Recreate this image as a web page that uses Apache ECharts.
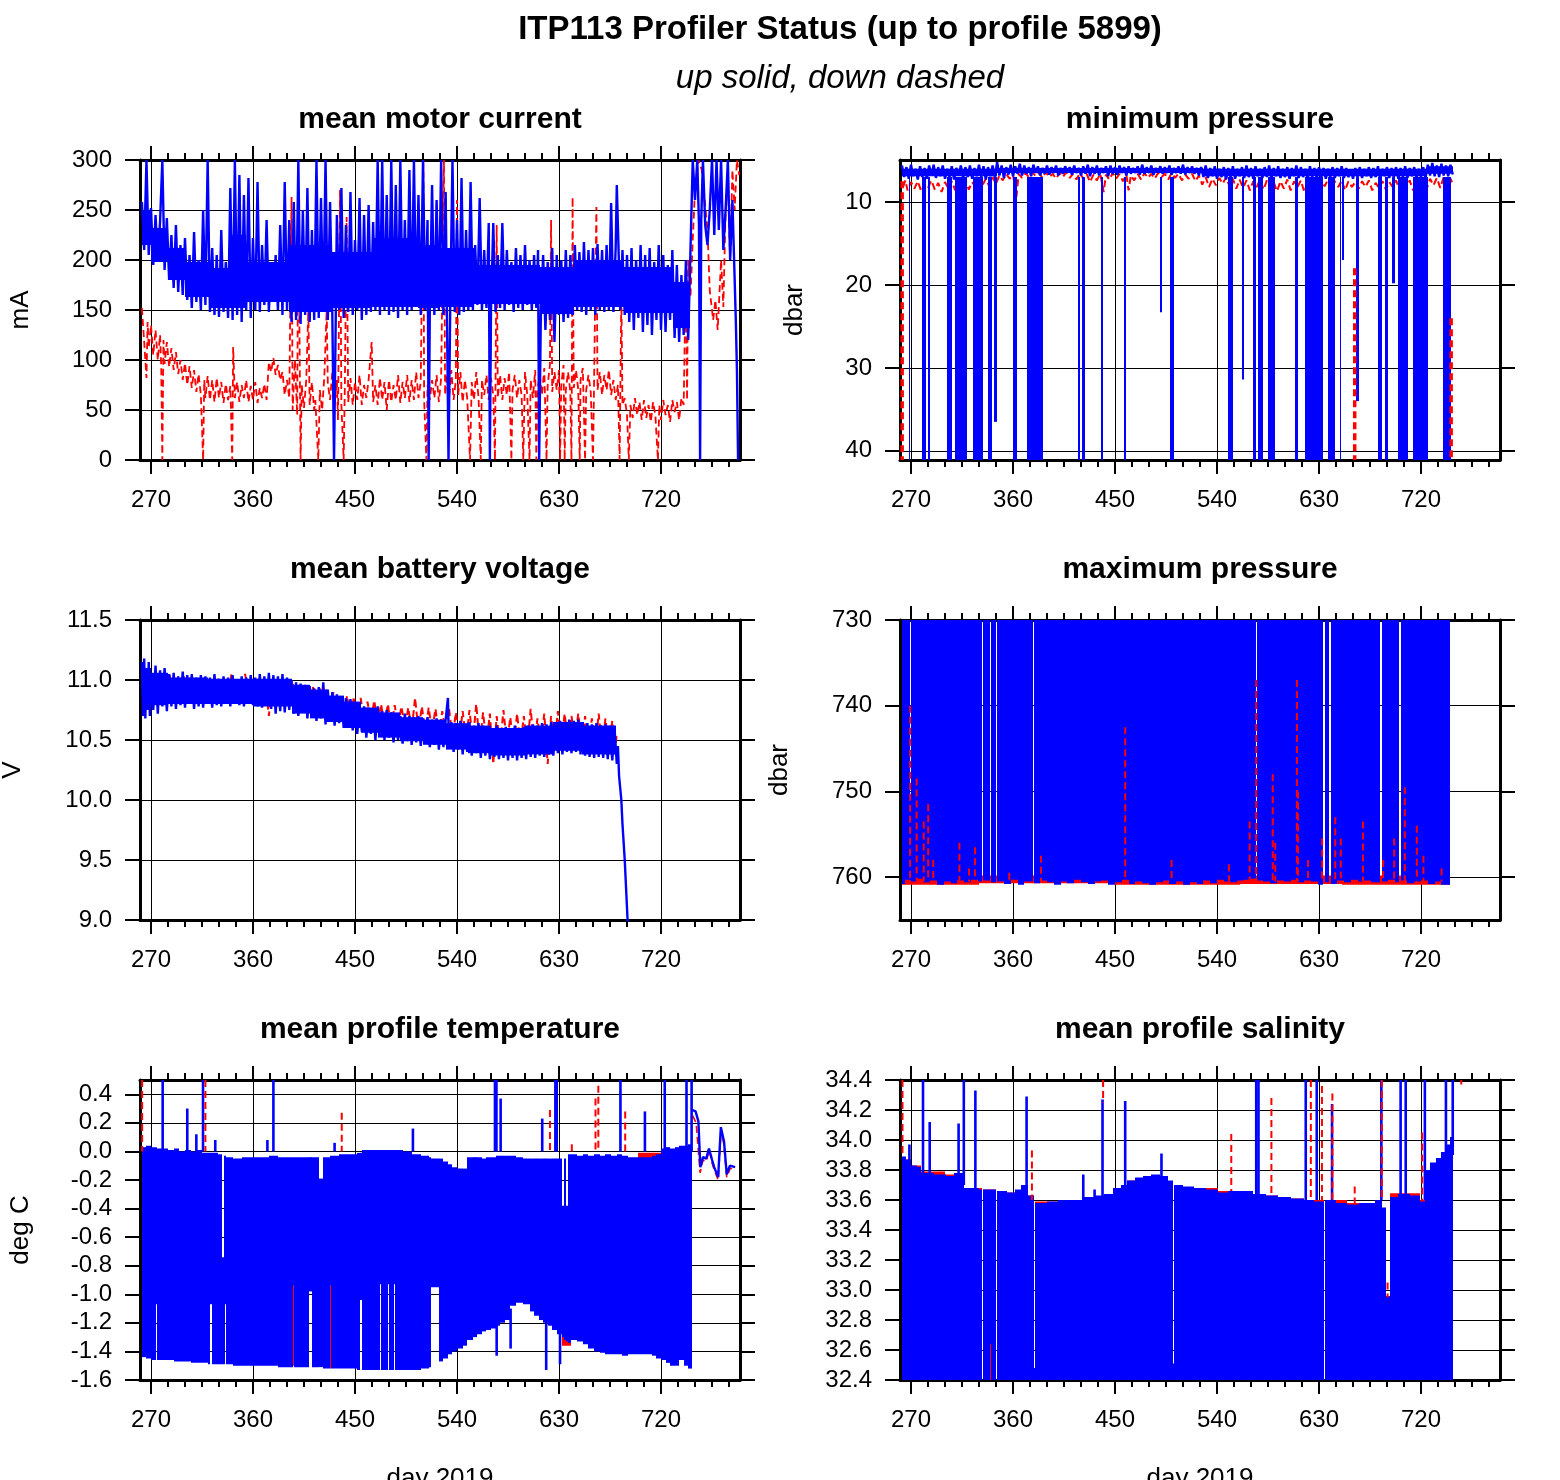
<!DOCTYPE html>
<html><head><meta charset="utf-8">
<script src="https://cdn.jsdelivr.net/npm/echarts@6/dist/echarts.min.js"></script>
<style>html,body{margin:0;padding:0;background:#fff}#c{width:1560px;height:1480px}</style>
</head><body><div id="c"></div>
<script>
// ---------- axis ticks / labels ----------
const majorDays = [270,360,450,540,630,720];
const minorDays = [285,300,315,330,345,375,390,405,420,435,465,480,495,510,525,555,570,585,600,615,645,660,675,690,705,735,750,765,780];
const motorTicks = [0,50,100,150,200,250,300];
const minPTicks = [10,20,30,40];
const battTicks = [9,9.5,10,10.5,11,11.5];
const maxPTicks = [730,740,750,760];
const tempTicks = [-1.6,-1.4,-1.2,-1,-0.8,-0.6,-0.4,-0.2,0,0.2,0.4];
const salTicks = [32.4,32.6,32.8,33,33.2,33.4,33.6,33.8,34,34.2,34.4];

// ---------- mean motor current (mA) ----------
const motorUp = [[262,258],[264,210],[266,300],[268,205],[270,252],[272,195],[274,245],[276,200],[278,238],[280,300],[282,190],[284,242],[286,180],[288,225],[290,172],[292,235],[294,168],[296,215],[298,165],[300,222],[302,160],[304,205],[306,152],[308,228],[310,158],[312,200],[314,150],[316,250],[318,155],[320,300],[322,148],[324,212],[326,145],[328,205],[330,143],[332,230],[334,148],[336,198],[338,142],[340,272],[342,140],[344,300],[346,145],[348,285],[350,138],[352,265],[354,150],[356,282],[358,142],[360,222],[362,150],[364,278],[366,148],[368,215],[370,155],[372,240],[374,148],[376,198],[378,160],[380,205],[382,150],[384,235],[386,145],[388,278],[390,150],[392,240],[394,138],[396,258],[398,140],[400,300],[402,136],[404,250],[406,145],[408,272],[410,138],[412,230],[414,140],[416,300],[418,142],[420,262],[422,148],[424,300],[426,140],[428,258],[430,145],[431.5,0],[433,140],[434,245],[436,150],[438,272],[440,142],[442,235],[444,148],[446,268],[448,145],[450,220],[452,150],[454,262],[456,140],[458,245],[460,145],[462,255],[464,148],[466,238],[468,150],[470,300],[472,145],[474,300],[476,150],[478,265],[480,145],[482,300],[484,148],[486,275],[488,142],[490,300],[492,150],[494,240],[496,145],[498,290],[500,150],[502,300],[504,155],[506,265],[508,145],[510,300],[512,150],[514,240],[515,0],[516,148],[518,275],[520,145],[522,260],[524,150],[526,300],[528,145],[530,268],[532.5,0],[534,150],[536,300],[538,148],[540,240],[542,145],[544,282],[546,148],[548,230],[550,150],[552,278],[554,150],[556,215],[558,155],[560,262],[562,150],[564,210],[566,152],[568,237],[569,0],[570,150],[572,237],[574,148],[576,205],[578,152],[580,237],[582,150],[584,210],[586,155],[588,198],[590,148],[592,212],[594,152],[596,205],[598,150],[600,215],[602,155],[604,200],[606,150],[608,205],[610,152],[611.5,210],[612.5,0],[614,148],[616,205],[618,130],[620,198],[622,140],[624,212],[626,118],[628,205],[630,145],[632,200],[634,138],[636,210],[638,142],[640,205],[642,145],[644,215],[646,150],[648,208],[650,148],[652,218],[654,145],[656,210],[658,150],[660,212],[662,145],[664,216],[666,150],[668,210],[670,148],[672,215],[674,150],[676,257],[678,148],[680,212],[681,275],[684,150],[686,210],[688,145],[690,205],[692,138],[694,212],[696,130],[698,200],[700,142],[702,215],[704,128],[706,205],[708,135],[710,212],[712,125],[714,198],[716,140],[718,215],[720,130],[722,205],[724,128],[726,195],[728,140],[730,210],[732,122],[734,195],[736,118],[738,185],[740,125],[742,200],[744,120],[746,210],[748,300],[750,260],[752,300],[753.5,235],[754.5,0],[755.5,240],[757,300],[759,235],[761,215],[763,250],[765,300],[767,225],[769,300],[771,230],[773,300],[775,210],[777,250],[779,300],[781,200],[783,260],[785,180],[786,140],[787,90],[788,0]];
// solid core of the up-profile band: [day0, day1, low, high]
const motorUpCore = [[262,270,215,250],[270,285,198,232],[285,300,180,212],[300,323,163,198],[323,340,152,192],[340,354,152,225],[354,392,158,198],[392,430,148,215],[430,465,152,208],[465,506,153,222],[506,525,152,215],[525,555,153,212],[555,613,156,195],[613,643,146,193],[643,687,153,200],[687,731,147,193],[731,746,132,178]];
const motorDown = [[262,152],[264,118],[266,82],[267,138],[268,112],[270,135],[272,105],[274,130],[276,100],[278,125],[279,95],[280,0],[281,120],[282,96],[284,118],[286,93],[288,112],[290,90],[292,108],[294,86],[296,100],[298,80],[300,97],[302,75],[304,94],[306,72],[308,90],[310,68],[312,86],[314,65],[316,0],[317,80],[318,62],[320,84],[322,60],[324,80],[326,58],[328,82],[330,62],[332,78],[334,57],[336,76],[338,60],[340,74],[341.7,0],[342.5,113],[344,62],[346,78],[348,58],[350,75],[352,62],[354,80],[356,58],[358,74],[360,60],[362,78],[364,57],[366,72],[368,62],[370,76],[372,60],[374,98],[376,88],[378,102],[380,85],[382,95],[384,80],[386,88],[388,65],[390,80],[392,62],[394,263],[395,50],[397,100],[399,45],[400,260],[402,0],[403,75],[405,52],[407,80],[408.8,150],[410,55],[412,78],[414,50],[415,60],[417.6,0],[419,70],[421,50],[423,85],[425,150],[426,77],[428,60],[430,88],[432,55],[434,80],[435,40],[436.8,270],[438,55],[440,0],[441,70],[442.6,243],[444,58],[446,82],[448,55],[450,78],[452,60],[454,85],[456,55],[458,75],[460,62],[462,80],[464.7,118],[466,58],[468,75],[470,55],[472,82],[474,60],[476,78],[478,50],[480,80],[482,58],[484,75],[486,60],[488,85],[490,57],[492,78],[494,62],[496,85],[498,58],[500,80],[502,60],[504,88],[506,62],[508,78],[510.3,300],[511,60],[513,0],[514,75],[516,60],[518,80],[520,62],[522,85],[524,58],[526,82],[528.5,300],[529.5,65],[531,85],[533,62],[535,90],[537,60],[539,80],[540,260],[541,65],[543,88],[545,58],[547,80],[549,62],[551.5,0],[553,78],[555,60],[557,88],[559,62],[561,0],[562,80],[564,65],[566,85],[568,60],[570,82],[572,65],[573.5,0],[575,235],[576,62],[578,85],[580,60],[582,82],[584,65],[586,88],[588,0],[589,70],[591,85],[593,62],[595,80],[597,65],[598.5,0],[600,88],[602,65],[604,0],[605,80],[607,62],[609,90],[610,0],[611,70],[613,85],[615,65],[617,92],[619,0],[620,75],[622,95],[623,240],[624,68],[626,88],[628,70],[630,90],[631,0],[632,75],[634,95],[635,0],[636,70],[638,88],[640,68],[641,0],[642,263],[643,72],[645,90],[647,70],[648.3,0],[649,80],[651,92],[653,0],[654,70],[656,85],[658,68],[660,0],[661,82],[663,253],[664,70],[666,88],[668,65],[670,85],[672,70],[674,90],[676,65],[678,80],[680,60],[682,75],[683.5,0],[685,167],[686,55],[688,62],[690,45],[691.6,0],[693,55],[695,42],[697,62],[699,45],[701,58],[703,40],[705,60],[707,42],[709,55],[711,38],[713,58],[715,45],[717.3,0],[718.5,55],[720,40],[722,60],[724,45],[726,55],[728,38],[730,60],[732,48],[734,58],[736,40],[738,62],[740,55],[742,197],[743,60],[744,200],[746,163],[748,220],[750,270],[753,300],[756,290],[758,267],[761,230],[763,170],[766,140],[768,160],[770,130],[773,200],[775,153],[777,250],[779,283],[781,200],[783,290],[785,250],[787,300],[789,285]];

// ---------- minimum pressure (dbar) ----------
const minPUp = [[262,5.6],[264,7.0],[266,5.8],[268,7.2],[270,5.5],[272,6.9],[274,6.0],[276,7.3],[278,5.7],[280,7.0],[282,5.9],[284,7.2],[286,5.6],[288,6.8],[290,5.5],[292,7.1],[294,5.8],[296,6.9],[298,5.6],[300,7.2],[302,6.0],[304,7.0],[306,5.7],[308,7.3],[310,5.9],[312,6.8],[314,5.6],[316,7.1],[318,5.8],[320,7.0],[322,5.6],[324,7.2],[326,5.9],[328,6.9],[330,5.5],[332,7.0],[334,5.7],[336,7.3],[338,5.8],[340,6.9],[342,5.6],[344,7.0],[346,5.2],[348,6.8],[350,5.6],[352,7.1],[354,5.8],[356,6.7],[358,5.5],[360,6.9],[362,5.7],[364,6.6],[366,5.4],[368,6.8],[370,5.6],[372,6.6],[374,5.8],[376,6.9],[378,5.5],[380,6.5],[382,5.7],[384,6.8],[386,5.9],[388,6.6],[390,5.6],[392,6.7],[394,5.8],[396,6.5],[398,5.6],[400,6.8],[402,5.9],[404,6.6],[406,5.7],[408,6.4],[410,5.8],[412,6.7],[414,5.6],[416,6.5],[418,5.9],[420,6.8],[422,5.7],[424,6.6],[426,5.5],[428,6.9],[430,5.8],[432,6.6],[434,5.6],[436,6.8],[438,5.9],[440,6.5],[442,5.7],[444,6.9],[446,5.6],[448,6.6],[450,5.8],[452,6.7],[454,5.6],[456,6.5],[458,5.8],[460,6.8],[462,5.7],[464,6.6],[466,5.9],[468,6.5],[470,5.7],[472,6.7],[474,5.5],[476,6.6],[478,5.8],[480,6.5],[482,5.6],[484,6.7],[486,5.9],[488,6.4],[490,5.7],[492,6.6],[494,5.8],[496,6.5],[498,5.6],[500,6.7],[502,5.9],[504,6.5],[506,5.7],[508,6.6],[510,5.5],[512,6.7],[514,5.8],[516,6.5],[518,5.7],[520,6.6],[522,5.9],[524,6.8],[526,5.8],[528,7.0],[530,5.6],[532,7.1],[534,5.9],[536,6.9],[538,5.7],[540,7.2],[542,6.0],[544,7.0],[546,5.8],[548,7.3],[550,5.9],[552,7.0],[554,5.7],[556,7.2],[558,6.0],[560,6.9],[562,5.8],[564,7.1],[566,5.6],[568,7.0],[570,5.9],[572,7.2],[574,5.7],[576,6.9],[578,6.0],[580,7.1],[582,5.8],[584,7.0],[586,5.6],[588,7.2],[590,5.9],[592,6.9],[594,5.7],[596,7.1],[598,6.0],[600,7.0],[602,5.8],[604,7.2],[606,5.9],[608,6.9],[610,5.6],[612,7.1],[614,5.8],[616,7.0],[618,6.0],[620,7.2],[622,5.7],[624,7.0],[626,5.9],[628,7.1],[630,5.8],[632,7.0],[634,5.9],[636,7.2],[638,6.0],[640,7.0],[642,5.8],[644,7.1],[646,5.9],[648,6.9],[650,5.7],[652,7.1],[654,5.9],[656,7.0],[658,6.1],[660,7.2],[662,5.9],[664,7.0],[666,5.8],[668,7.1],[670,6.0],[672,6.9],[674,5.8],[676,7.1],[678,5.9],[680,7.0],[682,5.7],[684,7.2],[686,6.0],[688,6.9],[690,5.8],[692,7.1],[694,5.9],[696,7.0],[698,5.8],[700,7.2],[702,5.9],[704,7.0],[706,5.7],[708,7.1],[710,5.9],[712,6.9],[714,5.8],[716,7.1],[718,6.0],[720,7.0],[722,5.8],[724,7.1],[726,5.5],[728,6.8],[730,5.3],[732,6.9],[734,5.6],[736,7.0],[738,5.4],[740,6.8],[742,5.6],[744,6.9],[746,5.5],[748,6.7]];
const minPUpCore = [[262,346,6.0,6.9],[346,528,5.9,6.5],[528,725,6.0,6.9],[725,748,5.7,6.6]];
const minPUpDrops = [[268.3,269.3,7,45],[279.4,283,7,45],[285.4,286.8,7,45],[301.5,305.9,7,45],[308.8,319.1,7,45],[325,333.8,7,45],[337.7,341.7,7,45],[343.2,346.2,7,36.5],[360.3,363.3,7,45],[372,386.7,7,45],[417,419.4,7,45],[420.6,423.5,7,45],[437.6,439.7,7,45],[457.7,460,7,45],[489.7,491.7,7,23.3],[498.9,501.9,7,45],[550,554.3,7,45],[561.8,564,7,31.4],[571.9,574.4,7,45],[576,580.6,7,45],[585,591.2,7,45],[608.8,611.5,7,45],[617.6,633.5,7,45],[638,644,7,45],[648.5,649.8,7,45],[650,652,7,17],[663,665.5,7,34],[682,685.6,7,45],[688,691,7,45],[694.5,697,7,19.8],[699.7,708.5,7,45],[712.9,726.2,7,45],[739.6,746.6,7,45]];
const minPDown = [[263,8.2],[265,7.4],[267,8.6],[270,7.6],[273,8.4],[276,7.5],[279,8.7],[282,7.8],[285,8.3],[288,7.4],[291,8.5],[294,7.7],[297,8.8],[300,7.6],[303,8.4],[306,7.5],[309,8.6],[312,7.8],[315,8.3],[318,7.4],[321,8.5],[324,7.6],[327,8.2],[330,7.3],[333,8.0],[336,7.2],[339,8.1],[342,7.0],[345,7.8],[348,6.8],[351,7.4],[354,6.6],[357,7.2],[360,6.7],[363,9.4],[365,6.6],[368,7.1],[371,6.5],[374,7.0],[377,6.4],[380,6.9],[383,6.5],[386,7.1],[389,6.4],[392,7.0],[395,6.6],[398,7.2],[401,6.5],[404,7.0],[407,6.4],[410,7.1],[413,6.6],[416,7.3],[419,6.5],[422,7.2],[425,6.6],[428,7.6],[431,6.7],[434,7.4],[437,6.6],[440,8.8],[442,6.7],[445,7.3],[448,6.5],[451,7.2],[454,6.6],[457,7.5],[460,6.7],[462,8.6],[464,6.8],[467,7.4],[470,6.6],[473,7.3],[476,6.5],[479,7.1],[482,6.6],[485,7.2],[488,6.5],[491,7.0],[494,6.6],[497,7.3],[500,6.5],[503,7.1],[506,6.6],[509,7.4],[512,6.7],[515,7.2],[518,6.6],[521,7.5],[524,6.8],[527,7.9],[530,7.0],[533,8.2],[536,7.2],[539,8.0],[542,7.1],[545,7.8],[548,7.0],[551,8.1],[554,7.2],[557,8.4],[560,7.3],[563,8.3],[566,7.4],[569,8.6],[572,7.5],[575,8.2],[578,7.3],[581,8.5],[584,7.4],[587,8.3],[590,7.6],[593,8.7],[596,7.5],[599,8.4],[602,7.3],[605,8.6],[608,7.5],[611,8.2],[614,7.4],[617,8.8],[620,7.6],[623,8.3],[626,7.4],[629,8.5],[632,7.6],[635,8.1],[638,7.3],[641,8.4],[644,7.5],[647,8.2],[650,7.4],[653,8.6],[656,7.5],[659,8.2],[662,7.6],[665,8.4],[668,7.5],[671,8.2],[674,7.4],[677,8.6],[680,7.7],[683,8.3],[686,7.5],[689,8.5],[692,7.6],[695,8.2],[698,7.4],[701,8.5],[704,7.6],[707,8.3],[710,7.4],[713,8.6],[716,7.5],[719,8.2],[722,7.3],[725,8.4],[728,7.2],[731,8.0],[734,7.1],[737,8.3],[740,7.0],[743,8.1],[746,7.2],[748,7.8]];
const minPDownDrops = [[262.2,262.2,7.5,45],[661.5,661.5,18,45],[746.6,746.6,24,45]];

// ---------- mean battery voltage (V) ----------
const battUp = [[262,11.15],[263,10.7],[264,11.18],[265,10.68],[266,11.1],[267,10.75],[268,11.15],[269,10.7],[270,11.05],[272,10.75],[274,11.12],[276,10.72],[278,11.08],[280,10.78],[282,11.1],[284,10.74],[286,11.05],[288,10.78],[290,11.06],[292,10.76],[294,11.03],[296,10.79],[298,11.07],[300,10.77],[302,11.04],[304,10.8],[306,11.05],[308,10.76],[310,11.02],[312,10.78],[314,11.04],[316,10.77],[318,11.03],[320,10.8],[322,11.02],[324,10.77],[326,11.05],[328,10.79],[330,11.01],[332,10.78],[334,11.03],[336,10.8],[338,11.02],[340,10.78],[342,11.04],[344,10.8],[346,11.0],[348,10.79],[350,11.03],[352,10.78],[354,11.02],[356,10.8],[358,11.04],[360,10.79],[362,11.02],[364,10.78],[366,11.05],[368,10.77],[370,11.03],[372,10.79],[374,11.06],[376,10.76],[378,11.04],[380,10.72],[382,11.03],[384,10.74],[386,11.05],[388,10.73],[390,11.02],[392,10.75],[394,11.0],[396,10.72],[398,10.98],[400,10.7],[402,10.97],[404,10.73],[406,10.96],[408,10.68],[410,10.95],[412,10.7],[414,10.93],[416,10.66],[418,10.94],[420,10.68],[422,10.98],[424,10.63],[426,10.92],[428,10.66],[430,10.9],[432,10.62],[434,10.88],[436,10.64],[438,10.86],[440,10.6],[442,10.85],[444,10.62],[446,10.84],[448,10.58],[450,10.82],[452,10.55],[454,10.8],[456,10.57],[458,10.78],[460,10.52],[462,10.77],[464,10.55],[466,10.76],[468,10.5],[470,10.78],[472,10.53],[474,10.74],[476,10.5],[478,10.75],[480,10.52],[482,10.73],[484,10.48],[486,10.72],[488,10.5],[490,10.7],[492,10.47],[494,10.72],[496,10.49],[498,10.7],[500,10.46],[502,10.69],[504,10.48],[506,10.7],[508,10.45],[510,10.68],[512,10.47],[514,10.69],[516,10.44],[518,10.67],[520,10.46],[522,10.68],[524,10.42],[526,10.66],[528,10.44],[530,10.67],[532,10.85],[533,10.43],[535,10.65],[537,10.4],[539,10.64],[541,10.42],[543,10.66],[545,10.38],[547,10.63],[549,10.4],[551,10.65],[553,10.37],[555,10.62],[557,10.39],[559,10.64],[561,10.35],[563,10.62],[565,10.37],[567,10.61],[569,10.34],[571,10.6],[573,10.36],[575,10.62],[577,10.34],[579,10.6],[581,10.35],[583,10.61],[585,10.33],[587,10.6],[589,10.35],[591,10.62],[593,10.33],[595,10.6],[597,10.35],[599,10.61],[601,10.34],[603,10.62],[605,10.36],[607,10.63],[609,10.35],[611,10.62],[613,10.37],[615,10.64],[617,10.36],[619,10.63],[621,10.38],[623,10.65],[625,10.37],[627,10.64],[629,10.39],[631,10.66],[633,10.38],[635,10.65],[637,10.4],[639,10.67],[641,10.39],[643,10.66],[645,10.4],[647,10.67],[649,10.38],[651,10.65],[653,10.37],[655,10.64],[657,10.36],[659,10.63],[661,10.35],[663,10.64],[665,10.36],[667,10.62],[669,10.35],[671,10.63],[673,10.34],[675,10.62],[677,10.33],[679,10.6],[681,10.3],[682,10.45],[683,10.2],[685,10.0],[686,9.8],[688,9.5],[690,9.1],[691,8.9]];
const battUpCore = [[262,270,10.76,11.1],[270,285,10.79,11.06],[285,320,10.8,11.02],[320,360,10.8,11.01],[360,394,10.78,11.01],[394,410,10.72,10.96],[410,425,10.68,10.92],[425,440,10.65,10.87],[440,455,10.6,10.82],[455,470,10.56,10.77],[470,490,10.52,10.73],[490,510,10.49,10.69],[510,530,10.46,10.67],[530,550,10.42,10.64],[550,570,10.39,10.62],[570,600,10.37,10.6],[600,625,10.38,10.62],[625,650,10.41,10.65],[650,680,10.38,10.62]];
const battDown = [[263,11.1],[266,10.85],[269,11.08],[272,10.82],[275,11.05],[278,10.85],[281,11.02],[284,10.9],[287,11.04],[290,10.86],[293,11.0],[296,10.88],[299,11.03],[302,10.85],[305,11.02],[308,10.88],[311,11.0],[314,10.86],[317,11.02],[320,10.9],[323,11.0],[326,10.85],[329,11.01],[332,10.88],[335,11.0],[338,10.86],[341,11.05],[344,10.89],[347,11.0],[350,10.87],[353,11.05],[356,10.88],[359,11.0],[362,10.86],[365,11.01],[368,10.88],[371,10.98],[374,10.7],[377,10.98],[380,10.85],[383,10.99],[386,10.84],[389,11.0],[392,10.85],[395,10.98],[398,10.82],[401,10.96],[404,10.8],[407,10.95],[410,10.78],[413,10.94],[416,10.75],[419,10.93],[422,10.74],[425,10.92],[428,10.72],[431,10.9],[434,10.7],[437,10.88],[440,10.7],[443,10.87],[446,10.68],[449,10.86],[452,10.66],[455,10.85],[458,10.65],[461,10.82],[464,10.66],[467,10.83],[470,10.63],[473,10.8],[476,10.62],[479,10.8],[482,10.6],[485,10.79],[488,10.62],[491,10.78],[494,10.6],[497,10.77],[500,10.58],[503,10.85],[506,10.58],[509,10.78],[512,10.56],[515,10.77],[518,10.57],[521,10.76],[524,10.55],[527,10.74],[530,10.54],[533,10.76],[536,10.52],[539,10.73],[542,10.5],[545,10.74],[548,10.5],[551,10.75],[554,10.49],[557,10.8],[560,10.45],[563,10.73],[566,10.47],[569,10.72],[572,10.3],[575,10.7],[578,10.45],[581,10.75],[584,10.46],[587,10.69],[590,10.44],[593,10.72],[596,10.46],[599,10.7],[602,10.44],[605,10.76],[608,10.45],[611,10.68],[614,10.47],[617,10.72],[620,10.3],[623,10.7],[626,10.46],[629,10.74],[632,10.48],[635,10.72],[638,10.47],[641,10.7],[644,10.5],[647,10.72],[650,10.45],[653,10.7],[656,10.46],[659,10.68],[662,10.44],[665,10.72],[668,10.45],[671,10.68],[674,10.44],[677,10.66],[680,10.46],[681,10.55]];

// ---------- maximum pressure (dbar) : [day0, day1, from, to] ----------
const maxPUp = [[262,265,729,760.8],[265,268.7,729,760.3],[268.7,269.7,751,760.4],[269.7,275,729,760.5],[275,281,729,760.2],[281,287,729,760.6],[287,293,729,760.4],[293,299,729,760.9],[299,305,729,760.5],[305,311,729,760.7],[311,317,729,760.4],[317,323,729,760.6],[323,329,729,760.3],[329,332.7,729,760.5],[333.7,339.5,729,760.4],[340.5,345.1,729,760.6],[346.1,352,729,760.5],[352,358,729,760.8],[358,364,729,760.3],[364,370,729,760.9],[370,377.5,729,760.5],[378.5,384,729,760.7],[384,390,729,760.4],[390,396,729,760.6],[396,402,729,760.9],[402,408,729,760.5],[408,414,729,760.7],[414,420,729,760.3],[420,426,729,760.6],[426,432,729,760.8],[432,438,729,760.5],[438,444,729,760.4],[444,450,729,760.9],[450,456,729,760.6],[456,462,729,760.3],[462,468,729,760.8],[468,474,729,760.5],[474,480,729,760.7],[480,486,729,760.9],[486,492,729,760.6],[492,498,729,760.4],[498,504,729,760.8],[504,510,729,760.5],[510,516,729,760.9],[516,522,729,760.6],[522,528,729,760.8],[528,534,729,760.4],[534,540,729,760.7],[540,546,729,760.3],[546,552,729,760.5],[552,558,729,760.6],[558,564,729,760.4],[564,570,729,760.3],[570,574,729,760.2],[575,581,729,760.4],[581,587,729,760.5],[587,593,729,760.7],[593,599,729,760.4],[599,605,729,760.5],[605,611,729,760.3],[611,617,729,760.6],[617,623,729,760.4],[623,629,729,760.5],[629,633.9,729,760.9],[634.9,639.2,729,760.6],[640.2,646,729,760.8],[646,652,729,760.4],[652,658,729,760.6],[658,664,729,760.3],[664,670,729,760.5],[670,676,729,760.4],[676,684.2,729,760.6],[685.2,691,729,760.5],[691,697,729,760.3],[697,701,729,760.6],[702,708,729,760.4],[708,714,729,760.7],[714,720,729,760.5],[720,726,729,760.4],[726,732,729,760.8],[732,738,729,760.5],[738,745.6,729,760.9]];
const maxPDown = [[262,330,759.8,760.9],[330,450,759.8,760.7],[450,560,759.8,760.9],[560,650,759.8,760.8],[650,746,759.8,760.9]];
const maxPDownSpikes = [[269.2,269.2,760.5,740],[275,275,760.5,748.5],[281.2,281.2,760.5,753.5],[285.2,285.2,760.5,751.5],[289.6,289.6,760.5,758],[312.7,312.7,760.5,756],[321.2,321.2,760.5,759],[326.5,326.5,760.5,756.5],[356.7,356.7,760.5,759.5],[384.7,384.7,760.5,757.5],[459,459,760.5,742.5],[499.9,499.9,760.5,758],[550.5,550.5,760.5,758.5],[568.8,568.8,760.5,753.5],[574.6,574.6,760.5,737],[589.2,589.2,760.5,748],[591.4,591.4,760.5,756],[610.5,610.5,760.5,737],[611.4,611.4,760.5,750],[620.3,620.3,760.5,758],[632.8,632.8,760.5,755.5],[644.3,644.3,760.5,753],[649.2,649.2,760.5,755.5],[668.8,668.8,760.5,753.5],[686.6,686.6,760.5,758],[696.3,696.3,760.5,755.5],[705.7,705.7,760.5,749.5],[716.3,716.3,760.5,754],[722.1,722.1,760.5,757.5],[738.1,738.1,760.5,759]];

// ---------- mean profile temperature (deg C) : [day0, day1, low, high] ----------
const tempUp = [[262.5,266,-1.44,0.03],[266,270,-1.45,0.04],[270,274,-1.46,0.03],[274,275.5,-1.07,0.03],[275.5,280,-1.46,0.02],[280,285,-1.46,0.02],[285,290,-1.46,0.01],[290,295,-1.47,0.02],[295,300,-1.47,0.0],[300,305,-1.47,0.01],[305,310,-1.48,0.0],[310,315,-1.48,0.01],[315,320,-1.48,-0.01],[320,322,-1.49,-0.01],[322,323.5,-1.07,-0.01],[323.5,329,-1.49,-0.01],[329,333,-1.49,-0.02],[333,334,-1.49,-0.74],[334,335.5,-1.49,-0.03],[335.5,336.5,-1.07,-0.03],[336.5,342,-1.49,-0.04],[342,350,-1.5,-0.05],[350,358,-1.5,-0.04],[358,366,-1.5,-0.04],[366,374,-1.5,-0.04],[374,382,-1.5,-0.03],[382,390,-1.51,-0.04],[390,395,-1.51,-0.04],[395,396,-0.94,-0.04],[396,402,-1.51,-0.04],[402,409,-1.51,-0.04],[409,412,-0.98,-0.04],[412,418,-1.51,-0.04],[418,421.5,-1.51,-0.19],[421.5,428,-1.52,-0.04],[428,429,-0.94,-0.03],[429,436,-1.52,-0.03],[436,444,-1.52,-0.02],[444,452,-1.52,-0.02],[452,454,-1.53,-0.01],[454,456.5,-1.04,-0.01],[456.5,462,-1.53,0.01],[462,472,-1.53,0.01],[472,473,-0.93,0.01],[473,479,-1.53,0.01],[479,480,-0.93,0.01],[480,484,-1.53,0.01],[484,485,-0.93,0.01],[485,492,-1.53,0.01],[492,500,-1.53,0.0],[500,508,-1.53,-0.02],[508,515,-1.52,-0.03],[515,517.5,-1.51,-0.04],[517.5,524.5,-0.95,-0.05],[524.5,528,-1.47,-0.05],[528,532,-1.45,-0.07],[532,536,-1.42,-0.09],[536,540,-1.4,-0.11],[540,545,-1.38,-0.12],[545,549,-1.36,-0.12],[549,554,-1.32,-0.04],[554,558,-1.3,-0.04],[558,562,-1.28,-0.04],[562,566,-1.26,-0.05],[566,570,-1.25,-0.04],[570,574,-1.24,-0.04],[574,578,-1.22,-0.03],[578,582,-1.2,-0.03],[582,587,-1.18,-0.03],[587,592,-1.08,-0.03],[592,598,-1.06,-0.04],[598,604,-1.07,-0.05],[604,608,-1.12,-0.05],[608,612,-1.15,-0.05],[612,616,-1.18,-0.05],[616,620,-1.2,-0.05],[620,624,-1.22,-0.05],[624,628,-1.25,-0.05],[628,632.5,-1.28,-0.05],[632.5,634,-1.3,-0.38],[634,636,-1.32,-0.05],[636,637.5,-1.33,-0.38],[637.5,641,-1.34,-0.02],[641,646,-1.32,-0.02],[646,651,-1.33,-0.03],[651,656,-1.35,-0.02],[656,661,-1.38,-0.03],[661,666,-1.4,-0.02],[666,671,-1.41,-0.03],[671,676,-1.42,-0.02],[676,681,-1.42,-0.03],[681,686,-1.42,-0.02],[686,691,-1.43,-0.03],[691,696,-1.42,-0.04],[696,702,-1.42,-0.04],[702,707,-1.42,-0.04],[707,712,-1.42,-0.04],[712,716,-1.43,-0.03],[716,720,-1.45,-0.02],[720,724,-1.46,0.02],[724,728,-1.48,0.03],[728,732,-1.5,0.02],[732,736,-1.5,0.03],[736,740,-1.46,0.04],[740,744,-1.5,0.04],[744,747.5,-1.52,0.05]];
const tempUpSpikes = [[280.3,280.3,0,0.55],[302,302,0,0.3],[310,310,0,0.12],[315.9,315.9,0,0.55],[326.7,326.7,0,0.08],[372.7,372.7,0,0.08],[378,378,0,0.55],[432,432,0,0.06],[501.1,501.1,0,0.16],[573.5,573.5,0,0.55],[574.8,574.8,0,0.55],[578.5,578.5,0,0.37],[615.2,615.2,0,0.23],[626.8,626.8,0,0.55],[628,628,0,0.55],[684.2,684.2,0,0.55],[705.8,705.8,0,0.28],[723.3,723.3,0,0.55],[742.5,742.5,0,0.55],[747,747,0,0.55],[575,575,-1.2,-1.43],[587.3,587.3,-1.1,-1.38],[618.7,618.7,-1.1,-1.53],[630.9,630.9,-1.2,-1.49]];
const tempUpTail = [[747.7,0.29],[750.5,0.28],[753,0.21],[754.7,-0.11],[757.1,-0.04],[759.9,-0.05],[762.3,0.02],[765.1,-0.06],[766.9,-0.11],[770.4,-0.18],[772.8,0.17],[775.6,0.07],[778,-0.16],[780.8,-0.1],[785.4,-0.11]];
const tempDown = [[262.5,274,-1.4,0.0],[275.5,322,-1.43,-0.02],[323.5,333,-1.45,-0.04],[336.5,395,-1.46,-0.07],[395,396,-1.5,-0.94],[396,409,-1.47,-0.07],[412,418,-1.48,-0.07],[418,421.5,-1.48,-0.22],[421.5,428,-1.48,-0.07],[428,429,-1.52,-0.94],[429,454,-1.49,-0.05],[456.5,472,-1.5,-0.02],[473,479,-1.5,-0.02],[480,484,-1.5,-0.02],[485,517,-1.49,-0.05],[524.5,549,-1.33,-0.14],[549,587,-1.15,-0.07],[587,632.5,-1.0,-0.08],[632.5,641,-1.36,-0.42],[641,700,-1.3,-0.06],[700,747,-1.4,-0.01]];
const tempDownSpikes = [[262.2,262.2,0,0.55],[318,318,0,0.55],[438.3,438.3,0,0.27],[622,622,0,0.29],[641.3,641.3,0,0.05],[662.2,662.2,0,0.37],[664.7,664.7,0,0.46],[688.4,688.4,0,0.28]];
const tempDownTail = [[748,0.25],[751,0.2],[754.5,-0.15],[757,-0.06],[760,-0.07],[762.5,0.01],[765,-0.08],[767,-0.13],[770.5,-0.2],[773,0.15],[775.5,0.05],[778,-0.18],[781,-0.12],[785,-0.12]];

// ---------- mean profile salinity : [day0, day1, low, high] ----------
const salUp = [[262,266,32.3,33.89],[266,270,32.3,33.87],[270,275,32.3,33.83],[275,279,32.3,33.82],[279,290,32.3,33.78],[290,301,32.3,33.77],[301,308,32.3,33.76],[308,317,32.3,33.78],[317,330,32.3,33.68],[330,332.6,32.3,33.67],[333.6,339.5,32.3,33.67],[339.5,340.5,32.64,33.67],[340.5,345.1,32.3,33.67],[346.1,355,32.3,33.66],[355,362,32.3,33.65],[362,367,32.3,33.67],[367,373,32.3,33.7],[373,378.3,32.3,33.63],[378.3,379.3,32.3,32.48],[379.3,390,32.3,33.58],[390,400,32.3,33.59],[400,421,32.3,33.6],[421,432,32.3,33.62],[432,440,32.3,33.63],[440,448,32.3,33.64],[448,455,32.3,33.68],[455,461,32.3,33.7],[461,468,32.3,33.73],[468,475,32.3,33.75],[475,482,32.3,33.76],[482,490,32.3,33.77],[490,497,32.3,33.76],[497,501.5,32.3,33.73],[501.5,502.5,32.3,32.51],[502.5,510,32.3,33.7],[510,520,32.3,33.69],[520,530,32.3,33.68],[530,541,32.3,33.67],[541,550,32.3,33.65],[550,572,32.3,33.66],[572,583,32.3,33.64],[583,594,32.3,33.63],[594,605,32.3,33.62],[605,617,32.3,33.61],[617,626,32.3,33.6],[626,634.1,32.3,33.59],[635.1,645,32.3,33.6],[645,655,32.3,33.58],[655,665,32.3,33.57],[665,679,32.3,33.58],[679,686,32.3,33.6],[686,689,32.3,33.55],[689,692.5,32.3,32.96],[692.5,700,32.3,33.62],[700,710,32.3,33.64],[710,719,32.3,33.63],[719,723.5,32.3,33.59],[723.5,728,32.3,33.8],[728,733,32.3,33.85],[733,738,32.3,33.88],[738,742,32.3,33.92],[742,746,32.3,33.97],[746,748,32.3,34.02]];
const salUpSpikes = [[268.6,268.6,33.8,33.97],[280.6,280.6,33.7,34.45],[286.5,286.5,33.7,34.12],[312,312,33.7,34.11],[316.6,316.6,33.7,34.45],[326.8,326.8,33.6,34.33],[372,372,33.6,34.29],[422,422,33.6,33.77],[432,432,33.6,33.67],[439,439,33.6,34.27],[459,459,33.6,34.26],[491,491,33.7,33.91],[574.6,574.6,33.6,34.45],[576.6,576.6,33.6,34.45],[618.3,618.3,33.6,34.45],[628,628,33.6,34.45],[641.5,641.5,33.6,34.24],[685,685,33.6,34.45],[702,702,33.6,34.45],[706.5,706.5,33.6,34.45],[723.4,723.4,33.6,34.45],[742,742,33.9,34.45],[748,748,33.9,34.45]];
const salDown = [[262,270,32.3,33.87],[270,279,32.3,33.83],[279,300,32.3,33.79],[300,317,32.3,33.77],[317,332.5,32.3,33.68],[333.5,345,32.3,33.67],[346.5,367,32.3,33.65],[367,373,32.3,33.69],[373,378.5,32.3,33.63],[379.5,400,32.3,33.59],[400,421,32.3,33.6],[421,448,32.3,33.62],[448,461,32.3,33.68],[461,475,32.3,33.73],[475,497,32.3,33.76],[497,501,32.3,33.72],[502.5,541,32.3,33.68],[541,572,32.3,33.66],[572,594,32.3,33.63],[594,617,32.3,33.61],[617,634.5,32.3,33.6],[635.5,655,32.3,33.6],[655,679,32.3,33.58],[679,686,32.3,33.6],[692.5,719,32.3,33.645],[719,723.5,32.3,33.6],[723.5,733,32.3,33.8],[733,748,32.3,33.88]];
const salDownSpikes = [[262.5,262.5,33.9,34.45],[376.7,376.7,33.6,33.93],[439.5,439.5,34.25,34.45],[552.6,552.6,33.66,34.04],[588,588,33.63,34.28],[622.8,622.8,33.6,34.45],[632.6,632.6,33.6,34.36],[641.8,641.8,33.6,34.31],[661.5,661.5,33.57,33.69],[685.5,685.5,33.6,34.45],[690.5,690.5,32.95,33.05],[721,721,33.6,34.05],[755.5,755.5,34.37,34.43]];

// ---------- build chart ----------
const FONT = '"Liberation Sans", Arial, Helvetica, sans-serif';
const BLUE = '#0000ff', RED = '#ff0000';
const XMIN = 260.3, XMAX = 789.7;
const panels = [
  {pos:[140,160], min:0, max:300, inv:false, ticks:motorTicks, fmt:v=>String(v), name:'mA', gap:106},
  {pos:[900,160], min:4.94, max:41.1, inv:true, ticks:minPTicks, fmt:v=>String(v), name:'dbar', gap:92},
  {pos:[140,620], min:9, max:11.5, inv:false, ticks:battTicks, fmt:v=>v.toFixed(1), name:'V', gap:114},
  {pos:[900,620], min:730, max:765, inv:true, ticks:maxPTicks, fmt:v=>String(v), name:'dbar', gap:107},
  {pos:[140,1080], min:-1.6, max:0.5, inv:false, ticks:tempTicks, fmt:v=>v.toFixed(1), name:'deg C', gap:106},
  {pos:[900,1080], min:32.4, max:34.4, inv:false, ticks:salTicks, fmt:v=>v.toFixed(1), name:'', gap:100}
];
const grid = [], xAxis = [], yAxis = [], series = [];
const lab = {fontSize:24, color:'#000', fontFamily:FONT};
panels.forEach((p,i)=>{
  grid.push({left:p.pos[0], top:p.pos[1], width:600, height:300, containLabel:false, outerBoundsMode:'none'});
  const bx = {gridIndex:i, type:'value', min:XMIN, max:XMAX};
  xAxis.push(Object.assign({}, bx, {position:'bottom',
    axisLine:{show:true, onZero:false, lineStyle:{color:'#000', width:3}},
    axisTick:{show:true, length:14, customValues:majorDays, lineStyle:{color:'#000', width:2}},
    axisLabel:Object.assign({customValues:majorDays, margin:28}, lab),
    splitLine:{show:true, lineStyle:{color:'#000', width:1}},
    name: i>=4 ? 'day 2019' : '', nameLocation:'middle', nameGap:86,
    nameTextStyle:{fontSize:26, color:'#000', fontFamily:FONT}}));
  xAxis.push(Object.assign({}, bx, {position:'bottom',
    axisLine:{show:false, onZero:false},
    axisTick:{show:true, length:7, customValues:minorDays, lineStyle:{color:'#000', width:2}},
    axisLabel:{show:false}, splitLine:{show:false}}));
  xAxis.push(Object.assign({}, bx, {position:'top',
    axisLine:{show:true, onZero:false, lineStyle:{color:'#000', width:3}},
    axisTick:{show:true, length:14, customValues:majorDays, lineStyle:{color:'#000', width:2}},
    axisLabel:{show:false}, splitLine:{show:false}}));
  xAxis.push(Object.assign({}, bx, {position:'top',
    axisLine:{show:false, onZero:false},
    axisTick:{show:true, length:7, customValues:minorDays, lineStyle:{color:'#000', width:2}},
    axisLabel:{show:false}, splitLine:{show:false}}));
  const by = {gridIndex:i, type:'value', min:p.min, max:p.max, inverse:p.inv};
  yAxis.push(Object.assign({}, by, {position:'left',
    axisLine:{show:true, onZero:false, lineStyle:{color:'#000', width:3}},
    axisTick:{show:true, length:15, customValues:p.ticks, lineStyle:{color:'#000', width:2}},
    axisLabel:Object.assign({customValues:p.ticks, margin:28, formatter:p.fmt}, lab),
    splitLine:{show:true, lineStyle:{color:'#000', width:1}},
    name:p.name, nameLocation:'middle', nameGap:p.gap, nameRotate:90,
    nameTextStyle:{fontSize:26, color:'#000', fontFamily:FONT}}));
  yAxis.push(Object.assign({}, by, {position:'right',
    axisLine:{show:true, onZero:false, lineStyle:{color:'#000', width:3}},
    axisTick:{show:true, length:15, customValues:p.ticks, lineStyle:{color:'#000', width:2}},
    axisLabel:{show:false}, splitLine:{show:false}}));
});

function lineS(i, data, color, dashed, width, z) {
  return {type:'line', xAxisIndex:4*i, yAxisIndex:2*i, data:data, symbol:'none', showSymbol:false,
    animation:false, silent:true, clip:true, z:z,
    lineStyle:{color:color, width:width, type: dashed ? [7,4] : 'solid'}};
}
function segRender(color, dashed, lw) {
  return function (params, api) {
    const cs = params.coordSys;
    const d0 = api.value(0), d1 = api.value(1), v0 = api.value(2), v1 = api.value(3);
    const a = api.coord([d0, v0]), b = api.coord([d1, v1]);
    if (d0 === d1) {
      const y0 = Math.max(cs.y, Math.min(a[1], b[1]));
      const y1 = Math.min(cs.y + cs.height, Math.max(a[1], b[1]));
      if (y1 <= y0) return;
      return {type:'line', shape:{x1:a[0], y1:y0, x2:a[0], y2:y1},
        style:{stroke:color, lineWidth:lw, lineDash: dashed ? [7,4] : null, fill:null}};
    }
    const x0 = Math.round(Math.min(a[0], b[0]));
    let x1 = Math.round(Math.max(a[0], b[0]));
    if (x1 <= x0) x1 = x0 + 1;
    const r = echarts.graphic.clipRectByRect(
      {x:x0, y:Math.min(a[1], b[1]), width:x1 - x0, height:Math.abs(b[1]-a[1])},
      {x:cs.x, y:cs.y, width:cs.width, height:cs.height});
    if (!r) return;
    return {type:'rect', shape:r, style:{fill:color, stroke:null}};
  };
}
function segS(i, data, color, dashed, lw, z) {
  return {type:'custom', xAxisIndex:4*i, yAxisIndex:2*i, data:data, renderItem:segRender(color, dashed, lw),
    encode:{x:[0,1], y:[2,3]}, animation:false, silent:true, z:z};
}

// panel 0: motor current
series.push(lineS(0, motorDown, RED, true, 1.8, 2));
series.push(segS(0, motorUpCore, BLUE, false, 2.5, 3));
series.push(lineS(0, motorUp, BLUE, false, 2.4, 3));
// panel 1: minimum pressure
series.push(lineS(1, minPDown, RED, true, 2, 2));
series.push(segS(1, minPUpCore, BLUE, false, 2.5, 3));
series.push(lineS(1, minPUp, BLUE, false, 2.4, 3));
series.push(segS(1, minPUpDrops, BLUE, false, 2.5, 3));
series.push(segS(1, minPDownDrops, RED, true, 3.5, 4));
// panel 2: battery
series.push(lineS(2, battDown, RED, true, 2, 2));
series.push(segS(2, battUpCore, BLUE, false, 2.5, 3));
series.push(lineS(2, battUp, BLUE, false, 2.4, 3));
// panel 3: max pressure
series.push(segS(3, maxPDown, RED, false, 2, 1));
series.push(segS(3, maxPUp, BLUE, false, 2.5, 3));
series.push(segS(3, maxPDownSpikes, RED, true, 2, 4));
// panel 4: temperature
series.push(segS(4, tempDown, RED, false, 2, 1));
series.push(lineS(4, tempDownTail, RED, true, 1.6, 2));
series.push(segS(4, tempUp, BLUE, false, 2.5, 3));
series.push(segS(4, tempUpSpikes, BLUE, false, 2.6, 3));
series.push(lineS(4, tempUpTail, BLUE, false, 2.4, 3));
series.push(segS(4, tempDownSpikes, RED, true, 2, 4));
// panel 5: salinity
series.push(segS(5, salDown, RED, false, 2, 1));
series.push(segS(5, salUp, BLUE, false, 2.5, 3));
series.push(segS(5, salUpSpikes, BLUE, false, 2.6, 3));
series.push(segS(5, salDownSpikes, RED, true, 2, 4));

const titles = [
  ['mean motor current', 440, 120], ['minimum pressure', 1200, 120],
  ['mean battery voltage', 440, 570], ['maximum pressure', 1200, 570],
  ['mean profile temperature', 440, 1030], ['mean profile salinity', 1200, 1030]
];
const graphic = [
  {type:'text', x:840, y:30, style:{text:'ITP113 Profiler Status (up to profile 5899)', fill:'#000',
    font:'bold 33px ' + FONT, align:'center', verticalAlign:'middle'}},
  {type:'text', x:840, y:79, style:{text:'up solid, down dashed', fill:'#000',
    font:'italic 33px ' + FONT, align:'center', verticalAlign:'middle'}}
].concat(titles.map(t => ({type:'text', x:t[1], y:t[2], style:{text:t[0], fill:'#000',
    font:'bold 30px ' + FONT, align:'center', verticalAlign:'middle'}})));

const chart = echarts.init(document.getElementById('c'), null, {renderer:'canvas'});
chart.setOption({animation:false, backgroundColor:'#fff', grid:grid, xAxis:xAxis, yAxis:yAxis, series:series, graphic:graphic});
</script></body></html>
